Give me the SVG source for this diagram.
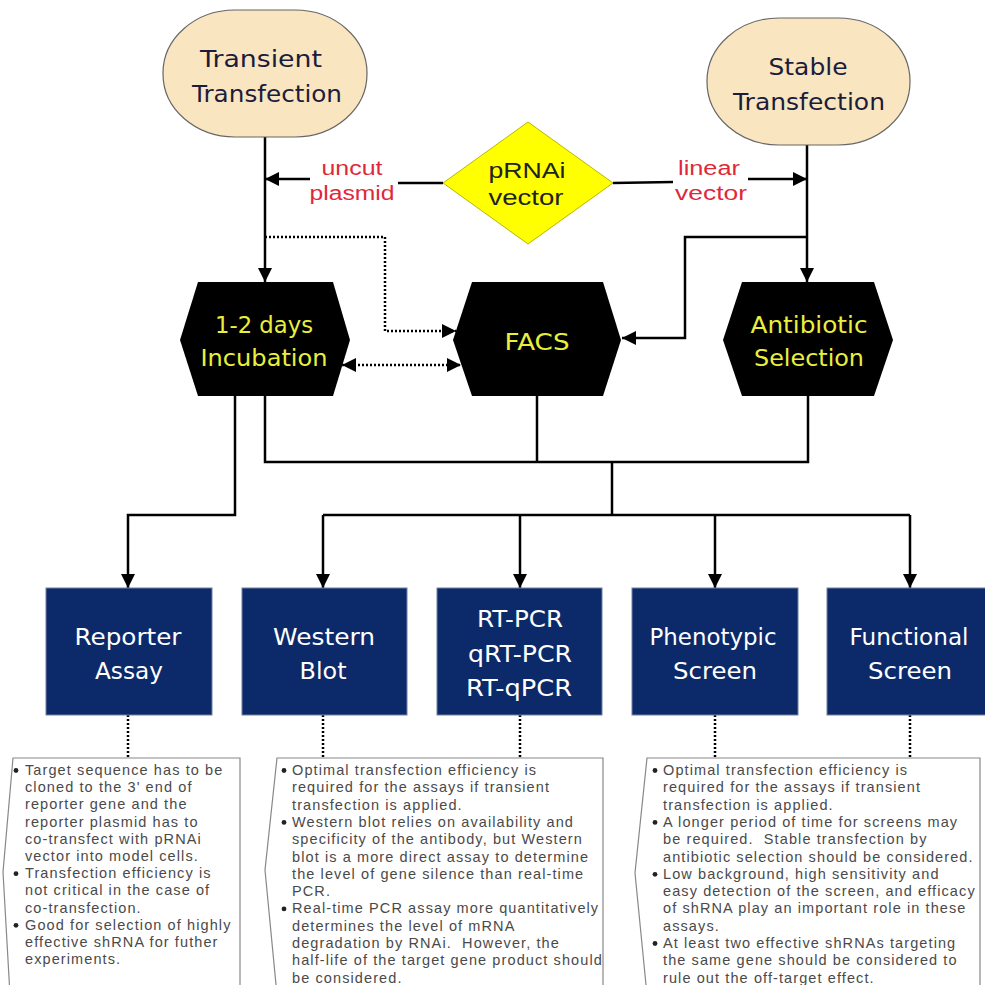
<svg xmlns="http://www.w3.org/2000/svg" width="985" height="985" viewBox="0 0 985 985">
<defs>
<marker id="ah" markerUnits="userSpaceOnUse" markerWidth="15" markerHeight="15" refX="14" refY="7" orient="auto">
<path d="M0,0 L14,7 L0,14 z" fill="#000"/>
</marker>
<marker id="ahs" markerUnits="userSpaceOnUse" markerWidth="15" markerHeight="15" refX="0" refY="7" orient="auto">
<path d="M14,0 L0,7 L14,14 z" fill="#000"/>
</marker>
<style>
.oval{fill:#f9e5bf;stroke:#666;stroke-width:1.2}
.ot{font-family:"DejaVu Sans",sans-serif;font-size:23px;fill:#1c1c3c;text-anchor:middle}
.hex{fill:#000}
.ht{font-family:"DejaVu Sans",sans-serif;font-size:23px;fill:#e9f03c;text-anchor:middle}
.box{fill:#0c2a6a;stroke:#7080a0;stroke-width:1}
.bt{font-family:"DejaVu Sans",sans-serif;font-size:23px;fill:#fff;text-anchor:middle}
.lab{font-family:"Liberation Sans",Arial,sans-serif;font-size:20px;fill:#e0283a;text-anchor:middle}
.dt{font-family:"Liberation Sans",Arial,sans-serif;font-size:22px;fill:#222;text-anchor:middle}
.ln{fill:none;stroke:#000;stroke-width:2.5}
.dl{fill:none;stroke:#000;stroke-width:2.5;stroke-dasharray:2 2}
.note{fill:#fff;stroke:#888;stroke-width:1.2}
.nt{font-family:"Liberation Sans",Arial,sans-serif;font-size:14.5px;fill:#4a4a4a;letter-spacing:1.1px}
.bul{fill:#222}
</style>
</defs>
<rect width="985" height="985" fill="#fff"/>

<g id="connectors">
<line class="ln" x1="265" y1="137" x2="265" y2="282" marker-end="url(#ah)"/>
<line class="ln" x1="807" y1="145" x2="807" y2="282" marker-end="url(#ah)"/>
<line class="ln" x1="443" y1="183" x2="398" y2="183"/>
<line class="ln" x1="310" y1="179" x2="265" y2="179" marker-end="url(#ah)"/>
<line class="ln" x1="613" y1="183" x2="673" y2="182"/>
<line class="ln" x1="748" y1="179" x2="807" y2="179" marker-end="url(#ah)"/>
<polyline class="ln" points="807,237 685,237 685,338 622,338" marker-end="url(#ah)"/>
<polyline class="dl" points="265,237 385,237 385,331 456,331" marker-end="url(#ah)"/>
<line class="dl" x1="342" y1="365" x2="461" y2="365" marker-start="url(#ahs)" marker-end="url(#ah)"/>
<polyline class="ln" points="235,396 235,515 128,515 128,588" marker-end="url(#ah)"/>
<polyline class="ln" points="265,396 265,462 808,462 808,396"/>
<line class="ln" x1="537" y1="396" x2="537" y2="462"/>
<line class="ln" x1="612" y1="462" x2="612" y2="515"/>
<line class="ln" x1="323" y1="515" x2="910" y2="515"/>
<line class="ln" x1="323" y1="515" x2="323" y2="588" marker-end="url(#ah)"/>
<line class="ln" x1="520" y1="515" x2="520" y2="588" marker-end="url(#ah)"/>
<line class="ln" x1="715" y1="515" x2="715" y2="588" marker-end="url(#ah)"/>
<line class="ln" x1="910" y1="515" x2="910" y2="588" marker-end="url(#ah)"/>
<line class="dl" x1="128" y1="715" x2="128" y2="758"/>
<line class="dl" x1="323" y1="715" x2="323" y2="758"/>
<line class="dl" x1="520" y1="715" x2="520" y2="758"/>
<line class="dl" x1="715" y1="715" x2="715" y2="758"/>
<line class="dl" x1="910" y1="715" x2="910" y2="758"/>
<text class="lab" x="352" y="175" textLength="61" lengthAdjust="spacingAndGlyphs">uncut</text>
<text class="lab" x="352" y="200" textLength="85" lengthAdjust="spacingAndGlyphs">plasmid</text>
<text class="lab" x="709" y="175" textLength="62" lengthAdjust="spacingAndGlyphs">linear</text>
<text class="lab" x="711" y="200" textLength="72" lengthAdjust="spacingAndGlyphs">vector</text>
</g>

<g id="transient">
<rect class="oval" x="163" y="10" width="204" height="127" rx="72" ry="63"/>
<text class="ot" x="261" y="67" textLength="122" lengthAdjust="spacingAndGlyphs">Transient</text>
<text class="ot" x="267" y="102" textLength="150" lengthAdjust="spacingAndGlyphs">Transfection</text>
</g>
<g id="stable">
<rect class="oval" x="707" y="18" width="203" height="127" rx="72" ry="63"/>
<text class="ot" x="808" y="75" textLength="79" lengthAdjust="spacingAndGlyphs">Stable</text>
<text class="ot" x="809" y="110" textLength="152" lengthAdjust="spacingAndGlyphs">Transfection</text>
</g>
<g id="pRNAi">
<polygon points="443,183 528,122 613,183 528,244" fill="#ffff00" stroke="#b8b800" stroke-width="1"/>
<text class="dt" x="527" y="178" textLength="77" lengthAdjust="spacingAndGlyphs">pRNAi</text>
<text class="dt" x="526" y="205" textLength="75" lengthAdjust="spacingAndGlyphs">vector</text>
</g>

<g id="incubation">
<polygon class="hex" points="180,340 198,282 333,282 350,340 333,396 198,396"/>
<text class="ht" x="264" y="333" textLength="98" lengthAdjust="spacingAndGlyphs">1-2 days</text>
<text class="ht" x="264" y="366" textLength="127" lengthAdjust="spacingAndGlyphs">Incubation</text>
</g>
<g id="facs">
<polygon class="hex" points="453,340 472,282 603,282 621,340 603,396 472,396"/>
<text class="ht" x="537" y="350" textLength="65" lengthAdjust="spacingAndGlyphs">FACS</text>
</g>
<g id="antibiotic">
<polygon class="hex" points="723,340 742,282 874,282 893,340 874,396 742,396"/>
<text class="ht" x="809" y="333" textLength="117" lengthAdjust="spacingAndGlyphs">Antibiotic</text>
<text class="ht" x="809" y="366" textLength="110" lengthAdjust="spacingAndGlyphs">Selection</text>
</g>

<g id="reporter">
<rect class="box" x="46" y="588" width="166" height="127"/>
<text class="bt" x="128" y="645" textLength="107" lengthAdjust="spacingAndGlyphs">Reporter</text>
<text class="bt" x="129" y="679" textLength="68" lengthAdjust="spacingAndGlyphs">Assay</text>
</g>
<g id="western">
<rect class="box" x="242" y="588" width="165" height="127"/>
<text class="bt" x="324" y="645" textLength="102" lengthAdjust="spacingAndGlyphs">Western</text>
<text class="bt" x="323" y="679" textLength="47" lengthAdjust="spacingAndGlyphs">Blot</text>
</g>
<g id="rtpcr">
<rect class="box" x="437" y="588" width="165" height="127"/>
<text class="bt" x="520" y="627" textLength="86" lengthAdjust="spacingAndGlyphs">RT-PCR</text>
<text class="bt" x="520" y="662" textLength="104" lengthAdjust="spacingAndGlyphs">qRT-PCR</text>
<text class="bt" x="519" y="696" textLength="106" lengthAdjust="spacingAndGlyphs">RT-qPCR</text>
</g>
<g id="phenotypic">
<rect class="box" x="632" y="588" width="166" height="127"/>
<text class="bt" x="713" y="645" textLength="127" lengthAdjust="spacingAndGlyphs">Phenotypic</text>
<text class="bt" x="715" y="679" textLength="84" lengthAdjust="spacingAndGlyphs">Screen</text>
</g>
<g id="functional">
<rect class="box" x="827" y="588" width="170" height="127"/>
<text class="bt" x="909" y="645" textLength="119" lengthAdjust="spacingAndGlyphs">Functional</text>
<text class="bt" x="910" y="679" textLength="84" lengthAdjust="spacingAndGlyphs">Screen</text>
</g>

<g id="note1">
<polyline class="note" points="10,995 3,872 13,758 240,758 240,995"/>
<circle class="bul" cx="16" cy="770.5" r="2.4"/>
<circle class="bul" cx="16" cy="873.7" r="2.4"/>
<circle class="bul" cx="16" cy="925.3" r="2.4"/>
<text class="nt" xml:space="preserve"><tspan x="25" y="775">Target sequence has to be</tspan><tspan x="25" y="792.2">cloned to the 3' end of</tspan><tspan x="25" y="809.4">reporter gene and the</tspan><tspan x="25" y="826.6">reporter plasmid has to</tspan><tspan x="25" y="843.8">co-transfect with pRNAi</tspan><tspan x="25" y="861">vector into model cells.</tspan><tspan x="25" y="878.2">Transfection efficiency is</tspan><tspan x="25" y="895.4">not critical in the case of</tspan><tspan x="25" y="912.6">co-transfection.</tspan><tspan x="25" y="929.8">Good for selection of highly</tspan><tspan x="25" y="947">effective shRNA for futher</tspan><tspan x="25" y="964.2">experiments.</tspan></text>
</g>
<g id="note2">
<polyline class="note" points="277,995 265,870 277,758 603,758 603,995"/>
<circle class="bul" cx="284" cy="770.5" r="2.4"/>
<circle class="bul" cx="284" cy="822.4" r="2.4"/>
<circle class="bul" cx="284" cy="908.9" r="2.4"/>
<text class="nt" xml:space="preserve"><tspan x="292" y="775">Optimal transfection efficiency is</tspan><tspan x="292" y="792.3">required for the assays if transient</tspan><tspan x="292" y="809.6">transfection is applied.</tspan><tspan x="292" y="826.9">Western blot relies on availability and</tspan><tspan x="292" y="844.2">specificity of the antibody, but Western</tspan><tspan x="292" y="861.5">blot is a more direct assay to determine</tspan><tspan x="292" y="878.8">the level of gene silence than real-time</tspan><tspan x="292" y="896.1">PCR.</tspan><tspan x="292" y="913.4">Real-time PCR assay more quantitatively</tspan><tspan x="292" y="930.7">determines the level of mRNA</tspan><tspan x="292" y="948">degradation by RNAi.  However, the</tspan><tspan x="292" y="965.3">half-life of the target gene product should</tspan><tspan x="292" y="982.6">be considered.</tspan></text>
</g>
<g id="note3">
<polyline class="note" points="647,995 635,873 647,758 980,758 980,995"/>
<circle class="bul" cx="655" cy="770.5" r="2.4"/>
<circle class="bul" cx="655" cy="822.4" r="2.4"/>
<circle class="bul" cx="655" cy="874.3" r="2.4"/>
<circle class="bul" cx="655" cy="943.5" r="2.4"/>
<text class="nt" xml:space="preserve"><tspan x="663" y="775">Optimal transfection efficiency is</tspan><tspan x="663" y="792.3">required for the assays if transient</tspan><tspan x="663" y="809.6">transfection is applied.</tspan><tspan x="663" y="826.9">A longer period of time for screens may</tspan><tspan x="663" y="844.2">be required.  Stable transfection by</tspan><tspan x="663" y="861.5">antibiotic selection should be considered.</tspan><tspan x="663" y="878.8">Low background, high sensitivity and</tspan><tspan x="663" y="896.1">easy detection of the screen, and efficacy</tspan><tspan x="663" y="913.4">of shRNA play an important role in these</tspan><tspan x="663" y="930.7">assays.</tspan><tspan x="663" y="948">At least two effective shRNAs targeting</tspan><tspan x="663" y="965.3">the same gene should be considered to</tspan><tspan x="663" y="982.6">rule out the off-target effect.</tspan></text>
</g>
</svg>
